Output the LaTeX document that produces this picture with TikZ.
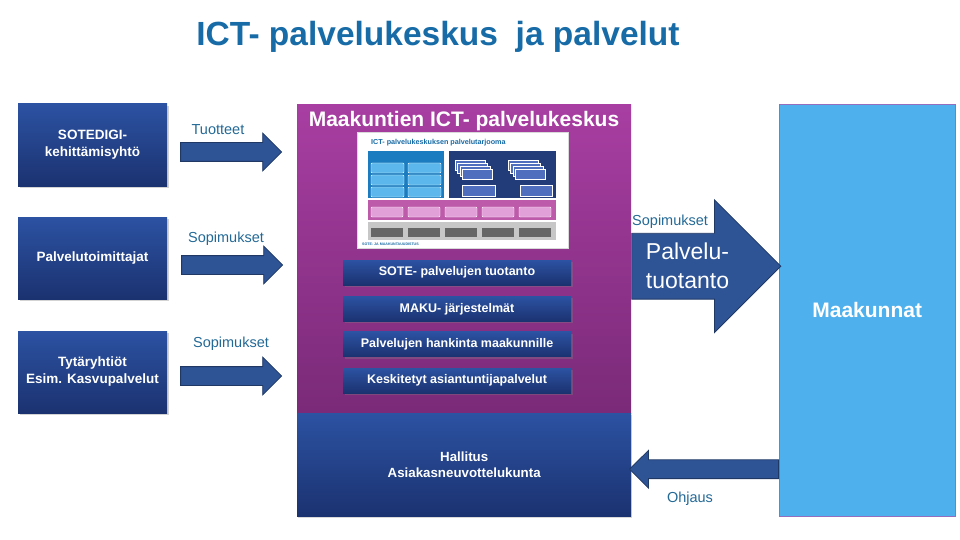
\documentclass[tikz,border=0pt]{standalone}
\usepackage{fontspec}
\setmainfont{Liberation Sans}
\usetikzlibrary{shapes.arrows,positioning,shadows}
\definecolor{navytop}{RGB}{44,82,162}
\definecolor{navybot}{RGB}{27,50,112}
\definecolor{purptop}{RGB}{168,62,162}
\definecolor{purpbot}{RGB}{122,42,120}
\definecolor{arrowblue}{RGB}{47,84,150}
\definecolor{arrowline}{RGB}{31,56,100}
\definecolor{labelblue}{RGB}{35,105,150}
\definecolor{titleblue}{RGB}{23,107,166}
\definecolor{skyblue}{RGB}{78,176,236}
\definecolor{skyline}{RGB}{150,110,190}
\definecolor{thumbblue}{RGB}{27,124,192}
\definecolor{thumblight}{RGB}{92,184,236}
\definecolor{thumbnavy}{RGB}{33,60,120}
\definecolor{thumbcard}{RGB}{80,110,190}
\definecolor{thumbpink}{RGB}{190,90,170}
\definecolor{thumbrose}{RGB}{225,160,215}
\tikzset{
  partner/.style={rectangle, top color=navytop, bottom color=navybot, text=white,
    font=\bfseries\fontsize{13.5}{17}\selectfont, align=center,
    minimum width=149pt, minimum height=82pt,
    drop shadow={opacity=0.35,shadow xshift=1.5pt,shadow yshift=-2pt}},
  service/.style={rectangle, top color=navytop, bottom color=navybot, text=white,
    font=\bfseries\fontsize{12.5}{14}\selectfont,
    minimum width=228pt, minimum height=25pt,
    drop shadow={opacity=0.35,shadow xshift=1.5pt,shadow yshift=-2pt}},
  fatarrow/.style={single arrow, draw=arrowline, fill=arrowblue, line width=0.8pt,
    single arrow head extend=9.5pt, inner ysep=9pt, inner xsep=0pt, minimum height=101pt},
  flowlabel/.style={text=labelblue, font=\fontsize{14.5}{16}\selectfont}
}
\begin{document}
\begin{tikzpicture}[x=1pt,y=-1pt]
\useasboundingbox (0,0) rectangle (960,540);
\node[font=\bfseries\fontsize{33.5}{36}\selectfont, text=titleblue] (title) at (438,37)
  {ICT- palvelukeskus\hspace{0.25em} ja palvelut};

% vasemmat toimijat
\node[partner] (sotedigi)    at (92.5,145) {SOTEDIGI-\\kehittämisyhtö};
\node[partner] (toimittajat) at (92.5,258) {Palvelutoimittajat};
\node[partner] (tytar)       at (92.5,372) {Tytäryhtiöt\\Esim. Kasvupalvelut};

\node[fatarrow, anchor=tail] (tuotteet) at ([xshift=13pt,yshift=-7pt]sotedigi.east) {};
\node[fatarrow, anchor=tail] (sopimus1) at ([xshift=14pt,yshift=-7pt]toimittajat.east) {};
\node[fatarrow, anchor=tail] (sopimus2) at ([xshift=13pt,yshift=-4pt]tytar.east) {};
\node[flowlabel, anchor=base] at (218,135) {Tuotteet};
\node[flowlabel, anchor=base] at (226,242) {Sopimukset};
\node[flowlabel, anchor=base] at (231,347) {Sopimukset};

% palvelukeskus
\node[rectangle, top color=purptop, bottom color=purpbot, minimum width=334pt,
  minimum height=309pt, anchor=north west, inner sep=0] (ict) at (297,104) {};
\node[text=white, font=\bfseries\fontsize{21}{24}\selectfont, anchor=base] (icttitle)
  at (464,127) {Maakuntien ICT- palvelukeskus};
\node[rectangle, top color=navytop, bottom color=navybot, minimum width=334pt,
  minimum height=103pt, anchor=north west, text=white, align=center,
  font=\bfseries\fontsize{13.3}{15.5}\selectfont,
  drop shadow={opacity=0.3,shadow xshift=1pt,shadow yshift=-2pt}] (hallitus) at (297,413)
  {Hallitus\\Asiakasneuvottelukunta};

% palvelutarjooma (pienoiskuva)
\node[draw=black!15, fill=white, minimum width=211pt, minimum height=116pt,
  anchor=north west, inner sep=0] (thumb) at (357,132) {};
\node[text=titleblue, font=\bfseries\fontsize{7.2}{8}\selectfont, anchor=west, inner sep=0]
  at (371,143) {ICT- palvelukeskuksen palvelutarjooma};
\fill[thumbblue] (368,151) rectangle (444,198);
\fill[thumbnavy] (449,151) rectangle (556,198);
\fill[thumbpink] (368,200) rectangle (556,220);
\fill[black!22]  (368,222) rectangle (556,240);
\foreach \x in {371,408}
  \foreach \y in {163,175,187}
    \draw[white, fill=thumblight, rounded corners=1pt] (\x,\y) rectangle ++(33,10);
\foreach \k in {0,1,2,3} {
  \draw[white, fill=thumbcard] (455+2.5*\k,160+3*\k) rectangle ++(30,10);
  \draw[white, fill=thumbcard] (508+2.5*\k,160+3*\k) rectangle ++(30,10);
}
\draw[white, fill=thumbcard] (462,185) rectangle (495,196);
\draw[white, fill=thumbcard] (520,185) rectangle (552,196);
\foreach \i in {0,...,4} {
  \draw[white, fill=thumbrose, rounded corners=1pt] (371+37*\i,207) rectangle ++(32,10);
  \fill[black!60] (371+37*\i,228) rectangle ++(32,9);
}
\node[text=titleblue, font=\bfseries\fontsize{3.6}{4}\selectfont, anchor=west, inner sep=0]
  at (362,244) {SOTE- JA MAAKUNTAUUDISTUS};

% palvelut
\node[service] (sote) at (457,272.5) {SOTE- palvelujen tuotanto};
\node[service, below=11pt of sote] (maku) {MAKU- järjestelmät};
\node[service, below=10pt of maku] (hankinta) {Palvelujen hankinta maakunnille};
\node[service, below=11pt of hankinta] (asiantuntija) {Keskitetyt asiantuntijapalvelut};

% maakunnat
\node[rectangle, fill=skyblue, draw=skyline, minimum width=176pt, minimum height=412pt,
  anchor=north west, inner sep=0, text=white, font=\bfseries\fontsize{21}{24}\selectfont]
  (maakunnat) at (779,104) {Maakunnat};

\node[fatarrow, anchor=tail, inner ysep=32.5pt, single arrow head extend=33.5pt,
  minimum height=149pt] (tuotanto) at ([yshift=-7.5pt]ict.east) {};
\node[text=white, align=left, anchor=west, font=\fontsize{23}{29}\selectfont] (tuotantoteksti)
  at ([xshift=11pt]tuotanto.tail) {Palvelu-\\tuotanto};
\node[flowlabel, anchor=base west, inner sep=1pt] at (631,225) {Sopimukset};

\node[fatarrow, anchor=tail, shape border rotate=180, minimum height=149pt] (ohjaus)
  at ([yshift=-4.5pt]maakunnat.west |- hallitus.center) {};
\node[flowlabel, anchor=base] at (690,502) {Ohjaus};
\end{tikzpicture}
\end{document}
